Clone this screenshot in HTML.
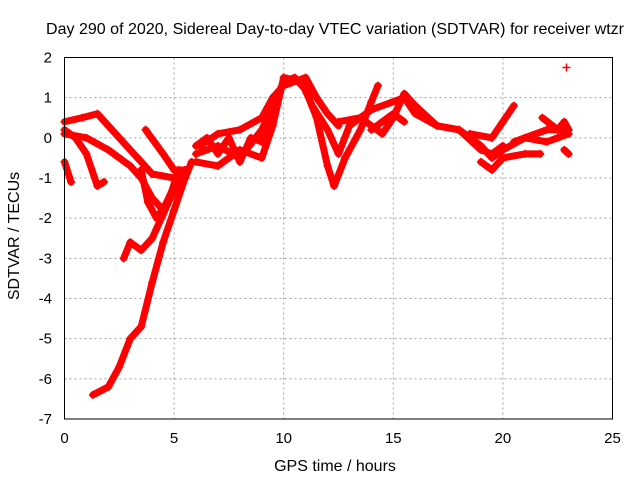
<!DOCTYPE html>
<html><head><meta charset="utf-8"><style>
body{margin:0;background:#fff;font-family:"Liberation Sans",sans-serif}
svg text{font-family:"Liberation Sans",sans-serif;font-size:15px;fill:#000}
svg text.t{font-size:16px}
</style></head><body>
<svg id="c" width="640" height="480" viewBox="0 0 640 480">
<rect width="640" height="480" fill="#fff"/>
<text class="t" x="335" y="34" text-anchor="middle" textLength="578">Day 290 of 2020, Sidereal Day-to-day VTEC variation (SDTVAR) for receiver wtzr</text>
<text class="t" x="335" y="471" text-anchor="middle">GPS time / hours</text>
<text class="t" transform="translate(19,236) rotate(-90)" text-anchor="middle">SDTVAR / TECUs</text>
<g id="grid"></g><g id="marks"></g>
<rect x="64.5" y="57.5" width="548" height="361.5" fill="none" stroke="#000"/>
</svg>
<script>
const xTicks=[0,5,10,15,20,25];
const yTicks=[2,1,0,-1,-2,-3,-4,-5,-6,-7];
const trackA=[[0,0.4],[0.8,0.5],[1.5,0.6],[2,0.3],[2.5,0],[3,-0.3],[4,-0.9],[5,-1.0],[5.5,-0.8]];
const trackB=[[0,0.1],[1,0],[2,-0.3],[3,-0.7],[3.5,-1.0],[4,-1.5],[4.5,-1.8],[5,-1.2],[5.5,-0.8]];
const trackC=[[0,-0.6],[0.3,-1.1]];
const trackD=[[0,0.2],[0.5,0.0],[1,-0.4],[1.5,-1.2],[1.8,-1.1]];
const trackF=[[1.3,-6.4],[2,-6.2],[2.5,-5.7],[3,-5.0],[3.5,-4.7],[4,-3.6],[4.5,-2.6],[5,-1.8],[5.5,-1.0],[5.8,-0.6]];
const trackG=[[2.7,-3.0],[3,-2.6],[3.5,-2.8],[4,-2.5],[4.5,-1.9],[5,-1.3],[5.5,-0.9]];
const trackH=[[3.7,0.2],[4.5,-0.4],[5,-0.8],[5.5,-0.8]];
const trackI=[[3.5,-0.8],[3.8,-1.6],[4.2,-2.0],[4.8,-1.5],[5.2,-0.8]];
const trackJ=[[6,-0.4],[7,-0.2],[8,-0.5],[9,0.2],[9.5,0.8],[10,1.4],[10.5,1.5],[11,1.2],[11.5,0.5],[12,-0.7],[12.3,-1.2],[12.8,-0.5],[13.5,0.2],[14,0.9],[14.3,1.3]];
const trackK=[[6,-0.6],[7,-0.7],[8,-0.3],[9,-0.5],[9.5,0.3],[10,1.5],[10.8,1.4],[11.3,0.8],[12,0.2],[12.5,-0.4],[13,0.3],[14,0.7],[15,0.9],[15.5,1.0],[16,0.6],[17,0.3],[18,0.2],[19,-0.3],[19.5,-0.4],[20,-0.2]];
const trackL=[[6.2,-0.2],[7,0.1],[8,0.2],[9,0.5],[9.5,1.0],[10,1.3],[11,1.5],[11.5,1.0],[12,0.6],[12.5,0.3]];
const trackU=[[6,-0.2],[6.5,0.0],[7,-0.4],[7.5,0.0],[8,-0.6],[8.5,0.0],[9,-0.1],[9.5,0.5]];
const trackM=[[12.5,0.4],[13.5,0.5],[14.5,0.1],[15,0.5],[15.5,1.1],[16,0.8],[17,0.3],[18,0.2],[19,-0.2],[19.5,-0.5],[20,-0.3],[21,0.0],[22,0.2],[23,0.2]];
const trackN=[[14,0.2],[15,0.6],[15.5,0.4]];
const trackO=[[19,-0.6],[19.5,-0.8],[20,-0.5],[21,-0.4],[21.7,-0.4]];
const trackP=[[18.5,0.1],[19.5,0.0],[20,0.4],[20.5,0.8]];
const trackQ=[[20.5,-0.1],[21,0.0],[22,-0.1],[22.5,0.0],[23,0.1]];
const trackR=[[21.8,0.5],[22.5,0.2],[22.8,0.4],[23,0.2]];
const trackS=[[22.8,-0.3],[23,-0.4]];
const trackT=[[22.9,1.75]];
const tracks=[trackA,trackB,trackC,trackD,trackF,trackG,trackH,trackI,trackJ,trackK,trackL,trackU,trackM,trackN,trackO,trackP,trackQ,trackR,trackS,trackT];
const NS="http://www.w3.org/2000/svg";
const sx=t=>64.5+t*(548/25);
const sy=v=>57.5+(2-v)*(361.5/9);
const g=document.getElementById('grid'),m=document.getElementById('marks');
xTicks.forEach(t=>{
 if(t>0&&t<25){const l=document.createElementNS(NS,'line');
 
 
 l.setAttribute('x1',sx(t));l.setAttribute('x2',sx(t));l.setAttribute('y1',57.5);l.setAttribute('y2',419);
 l.setAttribute('stroke','#a0a0a0');l.setAttribute('stroke-dasharray','2,3');g.appendChild(l);}
 const tx=document.createElementNS(NS,'text');
 
 
 tx.setAttribute('x',sx(t));tx.setAttribute('y',443);tx.setAttribute('text-anchor','middle');tx.textContent=t;g.appendChild(tx);
});
yTicks.forEach(v=>{
 if(v<2&&v>-7){const l=document.createElementNS(NS,'line');
 
 
 l.setAttribute('x1',64.5);l.setAttribute('x2',612.5);l.setAttribute('y1',sy(v));l.setAttribute('y2',sy(v));
 l.setAttribute('stroke','#a0a0a0');l.setAttribute('stroke-dasharray','2,3');g.appendChild(l);}
 const tx=document.createElementNS(NS,'text');
 
 
 tx.setAttribute('x',52);tx.setAttribute('y',sy(v)+5);tx.setAttribute('text-anchor','end');tx.textContent=v;g.appendChild(tx);
});
tracks.forEach(tr=>{
 if(tr.length>1){const p=document.createElementNS(NS,'polyline');
 
 
 p.setAttribute('points',tr.map(d=>sx(d[0])+','+sy(d[1])).join(' '));
 p.setAttribute('fill','none');p.setAttribute('stroke','#f00');p.setAttribute('stroke-width','7');p.setAttribute('stroke-linejoin','round');p.setAttribute('stroke-linecap','round');
 m.appendChild(p);}
 tr.forEach(d=>{const x=sx(d[0]),y=sy(d[1]);
 const q=document.createElementNS(NS,'path');
 
 
 q.setAttribute('d','M'+(x-4)+' '+y+'H'+(x+4)+'M'+x+' '+(y-4)+'V'+(y+4));
 q.setAttribute('stroke','#f00');q.setAttribute('stroke-width','1.5');m.appendChild(q);});
});
</script>
</body></html>
